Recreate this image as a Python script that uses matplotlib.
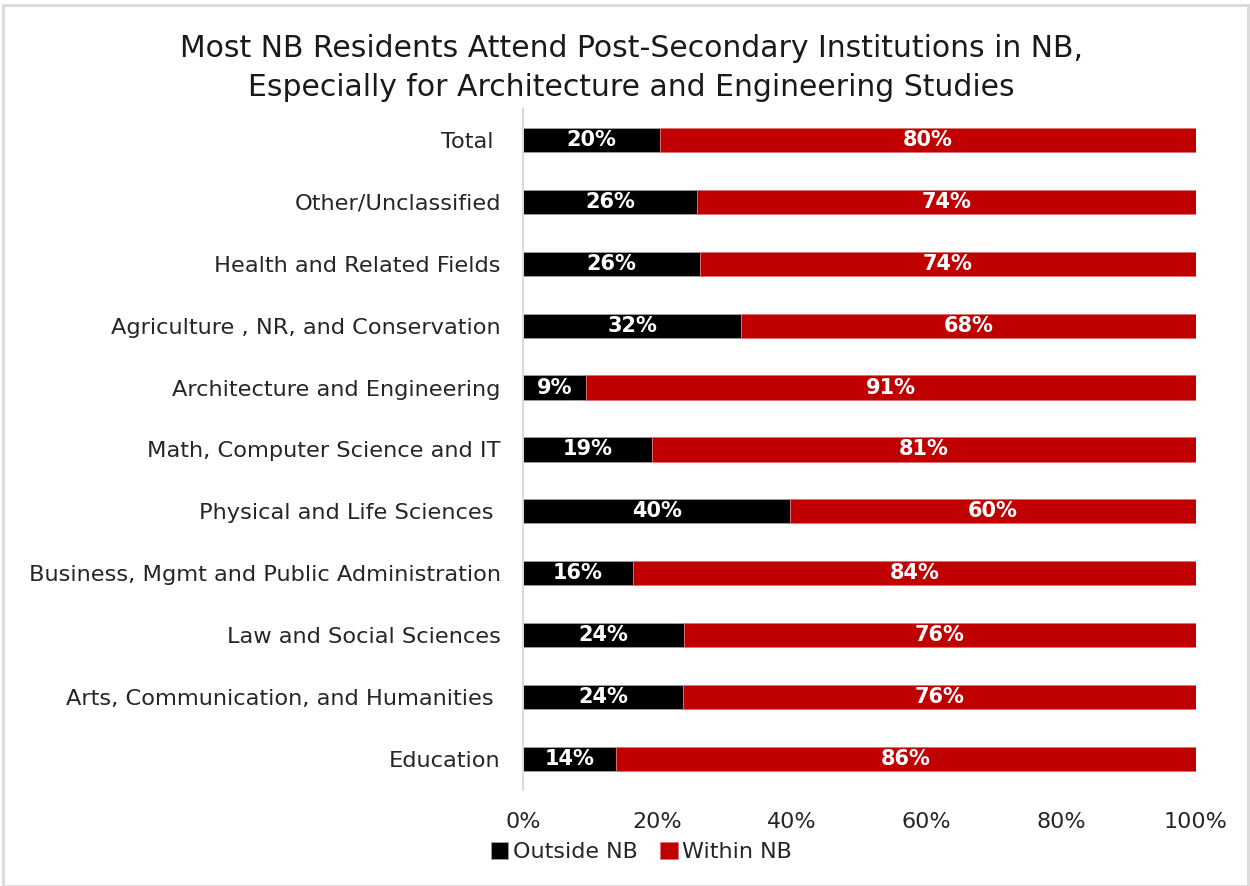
import matplotlib.pyplot as plt
from matplotlib.patches import Rectangle
from matplotlib.ticker import PercentFormatter

categories = ['Total ', 'Other/Unclassified', 'Health and Related Fields',
              'Agriculture , NR, and Conservation', 'Architecture and Engineering',
              'Math, Computer Science and IT', 'Physical and Life Sciences ',
              'Business, Mgmt and Public Administration', 'Law and Social Sciences',
              'Arts, Communication, and Humanities ', 'Education']
outside_nb = [20.4, 25.9, 26.3, 32.4, 9.4, 19.2, 39.7, 16.3, 23.9, 23.8, 13.8]
outside_labels = ['20%', '26%', '26%', '32%', '9%', '19%', '40%', '16%', '24%', '24%', '14%']
within_labels = ['80%', '74%', '74%', '68%', '91%', '81%', '60%', '84%', '76%', '76%', '86%']
within_nb = [100 - v for v in outside_nb]

plt.rcParams['font.family'] = ['DejaVu Sans']

fig = plt.figure(figsize=(12.5, 8.86), dpi=100)
ax = fig.add_axes([0.4184, 0.1084, 0.5384, 0.7686])

y = list(range(len(categories)))
b1 = ax.barh(y, outside_nb, height=0.39, color='black', edgecolor='#a0a0a0',
             linewidth=0.6, label='Outside NB')
b2 = ax.barh(y, within_nb, left=outside_nb, height=0.39, color='#C00000',
             edgecolor='#e07070', linewidth=0.6, label='Within NB')
ax.bar_label(b1, labels=outside_labels, label_type='center', color='white',
             fontsize=15, fontweight='bold')
ax.bar_label(b2, labels=within_labels, label_type='center', color='white',
             fontsize=15, fontweight='bold')

ax.set_ylim(len(categories) - 0.5, -0.5)
ax.set_xlim(0, 100)
ax.set_yticks(y)
ax.set_yticklabels(categories, fontsize=16.2, color='#262626')
ax.set_xticks([0, 20, 40, 60, 80, 100])
ax.xaxis.set_major_formatter(PercentFormatter(decimals=0))
ax.tick_params(axis='x', labelsize=16, labelcolor='#262626', length=0, pad=16)
ax.tick_params(axis='y', length=0, pad=16)
for s in ['top', 'right', 'bottom']:
    ax.spines[s].set_visible(False)
ax.spines['left'].set_color('#d9d9d9')
ax.spines['left'].set_linewidth(1.5)

fig.suptitle('Most NB Residents Attend Post-Secondary Institutions in NB,\n'
             'Especially for Architecture and Engineering Studies',
             x=0.505, y=0.962, fontsize=21.5, color='#1a1a1a', linespacing=1.45)

fig.legend(handles=[b1, b2], loc='center', bbox_to_anchor=(0.513, 0.038), ncol=2,
           frameon=False, fontsize=16, handlelength=0.8, handleheight=0.8,
           handletextpad=0.2, columnspacing=1.0, labelcolor='#262626')

fig.patches.append(Rectangle((0.002, 0.0), 0.996, 0.994, transform=fig.transFigure,
                             fill=False, edgecolor='#d9d9d9', linewidth=2))

fig.savefig('out.png', dpi=100, facecolor='white')
